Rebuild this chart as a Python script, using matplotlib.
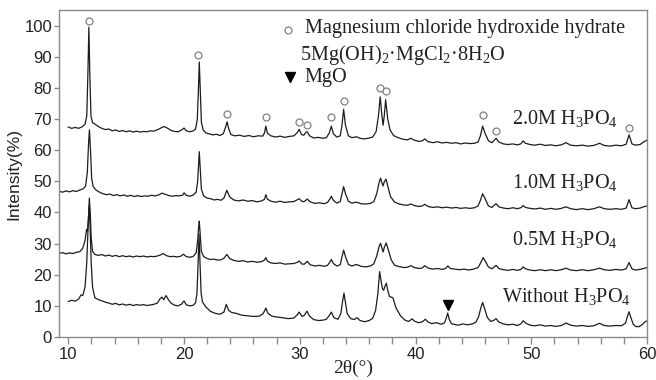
import matplotlib
matplotlib.use("Agg")
import matplotlib.pyplot as plt
from matplotlib.ticker import MultipleLocator

plt.rcParams['mathtext.fontset'] = 'custom'
plt.rcParams['mathtext.rm'] = 'Liberation Serif'
plt.rcParams['mathtext.it'] = 'Liberation Serif:italic'
plt.rcParams['mathtext.bf'] = 'Liberation Serif:bold'

# ---------------- data ----------------
# 2.0M H3PO4
tt_20 = [10.0, 10.3, 10.6, 10.9, 11.2, 11.45, 11.6, 11.7, 11.78, 11.86, 11.96, 12.1, 12.3, 12.6, 12.9,
         13.2, 13.5, 13.8, 14.1, 14.4, 14.7, 15.0, 15.3, 15.6, 15.9, 16.2, 16.5, 16.8, 17.1, 17.4,
         17.8, 18.1, 18.3, 18.6, 18.9, 19.2, 19.5, 19.8, 20.0, 20.2, 20.5, 20.8, 21.0, 21.15, 21.25,
         21.32, 21.4, 21.5, 21.65, 21.9, 22.2, 22.5, 22.8, 23.1, 23.4, 23.6, 23.72, 23.85, 24.05, 24.4,
         24.8, 25.2, 25.6, 26.0, 26.4, 26.8, 26.95, 27.07, 27.2, 27.5, 27.9, 28.3, 28.7, 29.1, 29.5,
         29.8, 29.95, 30.15, 30.35, 30.55, 30.65, 30.85, 31.2, 31.6, 32.0, 32.3, 32.55, 32.73, 32.9,
         33.2, 33.5, 33.65, 33.79, 33.95, 34.2, 34.5, 34.9, 35.2, 35.6, 36.0, 36.3, 36.6, 36.8, 36.95,
         37.1, 37.2, 37.3, 37.42, 37.6, 37.8, 38.1, 38.5, 38.9, 39.3, 39.6, 39.9, 40.3, 40.6, 40.8,
         41.1, 41.5, 41.9, 42.3, 42.7, 43.1, 43.5, 43.9, 44.3, 44.7, 45.1, 45.4, 45.6, 45.8, 46.0,
         46.3, 46.6, 46.8, 46.96, 47.2, 47.6, 48.0, 48.4, 48.8, 49.1, 49.3, 49.5, 49.9, 50.3, 50.8,
         51.2, 51.7, 52.1, 52.6, 53.0, 53.4, 53.9, 54.4, 54.9, 55.4, 55.9, 56.3, 56.8, 57.3, 57.8,
         58.2, 58.45, 58.7, 59.0, 59.4, 59.7, 60.0]
int_20 = [67.4, 67.0, 67.3, 67.0, 67.5, 68.3, 71.0, 85.0, 99.5, 85.0, 71.0, 68.8, 68.4, 67.6, 67.0,
          66.6, 66.8, 66.2, 66.5, 66.0, 66.3, 65.9, 66.2, 65.8, 66.1, 65.8, 66.0, 65.9, 66.2, 66.1,
          66.7, 67.3, 67.6, 67.0, 66.3, 66.0, 65.9, 66.5, 67.1, 66.2, 65.9, 66.2, 66.8, 70.0, 80.0,
          88.3, 80.0, 69.0, 66.5, 65.5, 65.2, 64.9, 65.1, 64.7, 65.3, 67.5, 69.1, 67.0, 65.0, 64.6,
          64.8, 64.4, 64.7, 64.3, 64.6, 64.5, 65.5, 67.7, 65.5, 64.6, 64.2, 64.5, 64.1, 64.4, 64.6,
          65.7, 66.7, 65.0, 64.8, 65.8, 65.9, 64.6, 63.9, 64.1, 63.8, 64.0, 65.5, 67.7, 65.3,
          64.2, 64.6, 68.0, 73.1, 68.0, 64.6, 64.0, 64.3, 63.8, 63.6, 63.9, 64.2, 66.0, 71.0, 77.1,
          71.0, 68.0, 71.0, 76.2, 70.0, 66.5, 64.7, 64.0, 63.5, 63.3, 63.8, 63.2, 62.8, 63.0, 63.6,
          62.7, 62.4, 62.7, 62.3, 62.5, 62.2, 62.4, 62.0, 62.3, 62.1, 62.2, 62.6, 64.5, 67.7, 65.5,
          63.0, 62.4, 63.2, 63.8, 62.6, 62.0, 61.8, 62.0, 61.7, 62.0, 63.0, 62.2, 61.8, 61.6, 61.9,
          61.5, 61.7, 61.4, 61.7, 62.4, 61.6, 61.4, 61.6, 61.3, 61.5, 62.2, 61.5, 61.3, 61.6, 61.4,
          61.9, 64.9, 62.0, 61.6, 61.8, 62.6, 63.2]

# 1.0M H3PO4
tt_10 = [9.2, 9.5, 9.8, 10.1, 10.4, 10.7, 11.0, 11.3, 11.5, 11.65, 11.75, 11.83, 11.92, 12.02, 12.15,
         12.4, 12.7, 13.0, 13.3, 13.6, 13.9, 14.2, 14.5, 14.8, 15.1, 15.4, 15.7, 16.0, 16.3, 16.6,
         16.9, 17.2, 17.5, 17.8, 18.1, 18.4, 18.7, 19.0, 19.3, 19.6, 19.9, 20.0, 20.2, 20.5, 20.8,
         21.05, 21.18, 21.25, 21.32, 21.4, 21.5, 21.7, 22.0, 22.3, 22.6, 22.9, 23.2, 23.45, 23.7, 23.95,
         24.3, 24.7, 25.1, 25.5, 25.9, 26.3, 26.7, 26.95, 27.07, 27.2, 27.5, 27.9, 28.3, 28.7, 29.1,
         29.5, 29.8, 29.95, 30.2, 30.4, 30.65, 30.9, 31.3, 31.7, 32.1, 32.4, 32.6, 32.73, 32.9, 33.2,
         33.5, 33.65, 33.79, 33.95, 34.2, 34.5, 34.9, 35.3, 35.7, 36.1, 36.4, 36.65, 36.85, 36.98, 37.1,
         37.2, 37.3, 37.45, 37.6, 37.85, 38.2, 38.6, 39.0, 39.3, 39.6, 39.9, 40.3, 40.6, 40.8, 41.1,
         41.5, 41.9, 42.3, 42.7, 43.1, 43.5, 43.9, 44.3, 44.7, 45.1, 45.4, 45.6, 45.8, 46.0, 46.3,
         46.6, 46.8, 46.96, 47.2, 47.6, 48.0, 48.4, 48.8, 49.1, 49.3, 49.5, 49.9, 50.3, 50.8, 51.2,
         51.7, 52.1, 52.6, 53.0, 53.4, 53.9, 54.4, 54.9, 55.4, 55.9, 56.3, 56.8, 57.3, 57.8, 58.2,
         58.45, 58.7, 59.0, 59.4, 59.7, 60.0]
int_10 = [46.8, 46.5, 46.9, 46.6, 47.0, 46.7, 47.2, 47.6, 48.5, 53.0, 62.0, 66.5, 60.0, 51.0, 48.3,
          47.2, 46.5, 46.0, 45.7, 45.9, 45.4, 45.7, 45.3, 45.6, 45.2, 45.5, 45.1, 45.4, 45.1, 45.3,
          45.2, 45.5, 45.3, 45.6, 46.2, 45.8, 45.4, 45.2, 45.4, 45.3, 45.6, 46.3, 45.5, 45.2, 45.6,
          46.5, 50.0, 55.0, 59.5, 54.0, 47.5, 45.3, 44.6, 44.4, 44.0, 44.2, 43.9, 44.6, 47.1, 45.0,
          44.0, 43.7, 44.0, 43.6, 43.8, 43.4, 43.7, 44.2, 45.7, 44.3, 43.6, 43.3, 43.6, 43.2, 43.4,
          43.5, 44.1, 44.4, 43.5, 43.5, 44.3, 43.4, 42.9, 43.1, 42.8, 43.2, 44.3, 45.2, 43.9, 43.0,
          43.5, 46.0, 48.3, 46.0, 43.6, 43.0, 43.3, 42.8, 42.7, 42.9, 43.5, 46.0, 49.5, 51.0, 49.5,
          48.5, 49.8, 50.7, 48.5, 45.0, 43.3, 42.7, 42.4, 42.3, 42.7, 42.2, 41.9, 42.1, 42.6, 41.9,
          41.6, 41.8, 41.5, 41.7, 41.4, 41.6, 41.3, 41.5, 41.3, 41.5, 42.1, 43.8, 46.0, 44.5, 42.1,
          41.6, 42.3, 42.8, 41.8, 41.4, 41.2, 41.5, 41.2, 41.5, 42.2, 41.6, 41.3, 41.1, 41.4, 41.0,
          41.3, 41.0, 41.3, 41.8, 41.2, 40.9, 41.2, 40.9, 41.2, 41.8, 41.2, 41.0, 41.2, 41.0, 41.4,
          44.1, 41.5, 41.2, 41.4, 41.8, 42.1]

# 0.5M H3PO4
tt_05 = [9.2, 9.5, 9.8, 10.1, 10.4, 10.7, 11.0, 11.25, 11.45, 11.58, 11.66, 11.74, 11.82, 11.9, 11.98,
         12.1, 12.3, 12.6, 12.9, 13.2, 13.5, 13.8, 14.1, 14.4, 14.7, 15.0, 15.3, 15.6, 15.9, 16.2,
         16.5, 16.8, 17.1, 17.4, 17.7, 18.0, 18.2, 18.5, 18.8, 19.1, 19.4, 19.7, 19.95, 20.2, 20.5,
         20.8, 21.05, 21.18, 21.26, 21.32, 21.4, 21.5, 21.7, 22.0, 22.3, 22.6, 22.9, 23.2, 23.45, 23.7,
         23.95, 24.3, 24.7, 25.1, 25.5, 25.9, 26.3, 26.7, 26.95, 27.07, 27.2, 27.5, 27.9, 28.3, 28.7,
         29.1, 29.5, 29.8, 29.95, 30.2, 30.4, 30.65, 30.9, 31.3, 31.7, 32.1, 32.4, 32.6, 32.73, 32.9,
         33.2, 33.5, 33.65, 33.79, 33.95, 34.2, 34.5, 34.9, 35.3, 35.7, 36.1, 36.4, 36.65, 36.85, 36.98,
         37.1, 37.2, 37.3, 37.47, 37.65, 37.9, 38.2, 38.6, 39.0, 39.3, 39.6, 39.9, 40.3, 40.6, 40.8,
         41.1, 41.5, 41.9, 42.3, 42.6, 42.8, 43.0, 43.4, 43.8, 44.2, 44.6, 45.0, 45.4, 45.6, 45.85,
         46.05, 46.3, 46.6, 46.8, 46.96, 47.2, 47.6, 48.0, 48.4, 48.8, 49.1, 49.3, 49.5, 49.9, 50.3,
         50.8, 51.2, 51.7, 52.1, 52.6, 53.0, 53.4, 53.9, 54.4, 54.9, 55.4, 55.9, 56.3, 56.8, 57.3,
         57.8, 58.2, 58.45, 58.7, 59.0, 59.4, 59.7, 60.0]
int_05 = [26.8, 27.1, 26.7, 27.0, 26.8, 27.2, 27.4, 28.5, 31.0, 34.5, 34.0, 38.0, 44.6, 40.0, 32.0,
          27.5, 26.5, 26.2, 26.5, 26.0, 26.3, 25.9, 26.2, 25.8, 26.1, 25.8, 26.0, 25.7, 26.0, 25.8,
          26.0, 25.7, 25.9, 25.8, 26.0, 26.4, 26.8, 26.1, 25.8, 25.9, 25.7, 25.9, 26.6, 25.8, 25.6,
          25.9, 27.0, 31.0, 35.0, 37.2, 33.0, 27.5, 25.8, 25.2, 24.9, 25.0, 24.7, 24.8, 25.3, 26.5,
          25.2, 24.6, 24.3, 24.5, 24.1, 24.3, 24.0, 24.2, 24.7, 25.5, 24.4, 23.8, 23.6, 23.8, 23.4,
          23.5, 23.6, 24.0, 24.4, 23.4, 23.4, 24.3, 23.2, 22.8, 23.0, 22.7, 23.0, 24.0, 24.9, 23.6,
          22.8, 23.2, 25.8, 27.9, 25.8, 23.3, 22.8, 23.3, 22.7, 22.5, 22.8, 23.5, 26.0, 29.0, 30.1,
          28.6, 27.3, 28.7, 30.2, 28.0, 24.8, 23.0, 22.6, 22.3, 22.4, 22.9, 22.3, 22.0, 22.2, 22.9,
          22.1, 21.8, 22.0, 21.7, 22.0, 22.8, 22.0, 21.8, 21.6, 21.8, 21.5, 21.8, 22.3, 23.6, 25.5,
          24.2, 22.5, 21.9, 22.5, 23.0, 22.0, 21.6, 21.4, 21.7, 21.4, 21.7, 22.5, 21.9, 21.5, 21.3,
          21.6, 21.3, 21.6, 21.3, 21.6, 22.1, 21.5, 21.3, 21.6, 21.3, 21.6, 22.1, 21.6, 21.4, 21.7,
          21.5, 21.9, 23.9, 21.9, 21.5, 21.7, 22.0, 22.3]

# Without H3PO4
tt_00 = [10.0, 10.3, 10.6, 10.9, 11.1, 11.25, 11.45, 11.6, 11.72, 11.8, 11.88, 11.98, 12.1, 12.3, 12.6,
         12.9, 13.2, 13.5, 13.8, 14.1, 14.4, 14.7, 15.0, 15.3, 15.6, 15.9, 16.2, 16.5, 16.8, 17.1,
         17.4, 17.7, 17.95, 18.1, 18.25, 18.45, 18.65, 18.9, 19.2, 19.5, 19.8, 20.0, 20.2, 20.5, 20.8,
         21.0, 21.12, 21.22, 21.3, 21.38, 21.48, 21.6, 21.9, 22.3, 22.7, 23.1, 23.45, 23.65, 23.85, 24.1,
         24.5, 25.0, 25.5, 26.0, 26.5, 26.8, 26.95, 27.07, 27.25, 27.6, 28.0, 28.5, 29.0, 29.5, 29.8,
         29.95, 30.2, 30.4, 30.62, 30.85, 31.2, 31.6, 32.0, 32.3, 32.55, 32.73, 32.95, 33.3, 33.55, 33.7,
         33.82, 33.95, 34.1, 34.4, 34.7, 34.95, 35.2, 35.6, 36.0, 36.3, 36.55, 36.75, 36.9, 37.05, 37.15,
         37.25, 37.35, 37.48, 37.6, 37.75, 38.05, 38.3, 38.7, 39.1, 39.4, 39.7, 39.95, 40.3, 40.6, 40.85,
         41.1, 41.4, 41.8, 42.2, 42.5, 42.65, 42.78, 42.92, 43.1, 43.4, 43.7, 44.1, 44.5, 44.9, 45.2,
         45.45, 45.62, 45.8, 45.98, 46.2, 46.5, 46.75, 46.96, 47.2, 47.6, 48.0, 48.4, 48.8, 49.1, 49.3,
         49.55, 49.9, 50.3, 50.8, 51.2, 51.7, 52.1, 52.6, 53.0, 53.4, 53.9, 54.4, 54.9, 55.4, 55.9,
         56.3, 56.8, 57.3, 57.8, 58.15, 58.3, 58.45, 58.6, 58.8, 59.0, 59.3, 59.6, 59.8, 60.0]
int_00 = [11.4, 11.8, 11.5, 12.2, 13.5, 13.3, 16.0, 24.0, 36.0, 42.0, 36.0, 24.0, 16.0, 12.6, 12.0,
          11.6, 11.2, 10.9, 10.5, 10.8, 10.3, 10.6, 10.2, 10.5, 10.1, 10.4, 10.2, 10.4, 10.1, 10.3,
          10.5, 10.9, 12.4, 12.8, 12.0, 13.3, 12.0, 10.8, 10.2, 10.0, 10.6, 11.6, 10.3, 10.0, 10.2,
          11.0, 14.0, 24.0, 33.0, 24.0, 14.0, 11.2, 9.6, 8.2, 7.6, 7.3, 8.0, 10.5, 8.6, 7.9,
          7.6, 7.0, 6.8, 6.6, 6.7, 7.4, 8.3, 9.3, 7.6, 6.7, 6.4, 6.2, 5.9, 6.1, 7.2,
          8.0, 6.6, 7.0, 8.3, 6.7, 5.6, 5.3, 5.4, 5.7, 6.9, 8.0, 6.2, 5.7, 7.5, 11.5,
          14.1, 11.0, 7.5, 5.9, 5.6, 6.2, 5.3, 4.9, 5.3, 6.0, 8.5, 14.0, 21.0, 17.5, 15.5,
          15.0, 16.2, 17.3, 15.0, 13.0, 12.6, 9.5, 6.8, 5.4, 5.0, 5.8, 5.0, 4.6, 4.9, 5.7,
          4.8, 4.3, 4.6, 4.1, 4.5, 6.0, 7.7, 5.6, 4.3, 4.0, 3.8, 4.2, 3.9, 4.2, 4.7,
          6.5, 9.0, 11.1, 9.0, 6.3, 5.0, 5.3, 5.9, 4.8, 4.2, 3.9, 4.1, 3.7, 4.2, 5.2,
          4.4, 3.8, 3.6, 3.9, 3.5, 3.7, 3.4, 3.7, 4.5, 3.8, 3.5, 3.7, 3.4, 3.6, 4.4,
          3.7, 3.5, 3.7, 3.6, 4.5, 6.5, 8.1, 6.3, 4.2, 3.4, 3.3, 4.0, 4.8, 5.2]

# phase markers (peak positions / marker heights)
hyd_tt = [11.75, 21.25, 23.72, 27.07, 29.95, 30.65, 32.73, 33.79, 36.95, 37.45, 45.8, 46.96, 58.45]
hyd_int = [101.6, 90.6, 71.6, 70.7, 69.1, 68.1, 70.5, 75.8, 79.8, 79.0, 71.2, 66.0, 67.0]
mgo_tt = [42.8]
mgo_int = [10.3]

series_labels = ["2.0M H$_3$PO$_4$", "1.0M H$_3$PO$_4$", "0.5M H$_3$PO$_4$", "Without H$_3$PO$_4$"]
label_x = [48.3, 48.3, 48.3, 47.5]
label_y = [70.3, 49.5, 31.3, 13.1]

legend_lines = ["Magnesium chloride hydroxide hydrate",
                "5Mg(OH)$_2$\u00b7MgCl$_2$\u00b78H$_2$O",
                "MgO"]

x_ticks = [10, 20, 30, 40, 50, 60]
y_ticks = [0, 10, 20, 30, 40, 50, 60, 70, 80, 90, 100]

# ---------------- figure ----------------
fig = plt.figure(figsize=(6.56, 3.80), dpi=100)
ax = fig.add_axes([59 / 656, 1 - 337 / 380, (647 - 59) / 656, (337 - 10) / 380])

line_kw = dict(color='#1c1c1c', lw=0.9, solid_joinstyle='round')
for tt, it in [(tt_20, int_20), (tt_10, int_10), (tt_05, int_05), (tt_00, int_00)]:
    ax.plot(tt, it, **line_kw)

ax.plot(hyd_tt, hyd_int, linestyle='none', marker='o', markersize=5,
        markerfacecolor='white', markeredgecolor='#808080', markeredgewidth=0.9)
ax.plot(mgo_tt, mgo_int, linestyle='none', marker='v', markersize=6.5, color='black')

serif = 'Liberation Serif'
fs_serif = 14.6
for lab, lx, ly in zip(series_labels, label_x, label_y):
    ax.text(lx, ly, lab, family=serif, fontsize=fs_serif, va='center', ha='left', color='#222222')

# legend block
ax.plot([28.97], [98.6], linestyle='none', marker='o', markersize=5,
        markerfacecolor='white', markeredgecolor='#808080', markeredgewidth=0.9, clip_on=False)
ax.text(30.43, 99.0, legend_lines[0], family=serif, fontsize=fs_serif, va='center', ha='left', color='#222222')
ax.text(30.0, 90.4, legend_lines[1], family=serif, fontsize=fs_serif, va='center', ha='left', color='#222222')
ax.plot([29.14], [83.6], linestyle='none', marker='v', markersize=6.5, color='black')
ax.text(30.43, 83.4, legend_lines[2], family=serif, fontsize=fs_serif, va='center', ha='left', color='#222222')

ax.set_xlim(9.2, 60)
ax.set_ylim(0, 105)
ax.set_xticks(x_ticks)
ax.xaxis.set_minor_locator(MultipleLocator(2))
ax.set_yticks(y_ticks)

for s in ax.spines.values():
    s.set_color('#8a8a8a')
    s.set_linewidth(1.0)

ax.tick_params(axis='both', which='both', direction='out', colors='#8a8a8a',
               labelcolor='#222222', labelsize=12)
ax.tick_params(axis='x', which='both', length=5, width=1.0, pad=2)
ax.tick_params(axis='y', which='major', length=3.5, width=1.0, pad=1.5)
for lbl in ax.get_xticklabels() + ax.get_yticklabels():
    lbl.set_family('Liberation Sans')

ax.set_xlabel("2\u03b8(\u00b0)", family=serif, fontsize=14, color='#222222', labelpad=-1.5)
ax.set_ylabel("Intensity(%)", family='Liberation Sans', fontsize=12.5, color='#222222', labelpad=2)

fig.savefig("out.png", dpi=100)
